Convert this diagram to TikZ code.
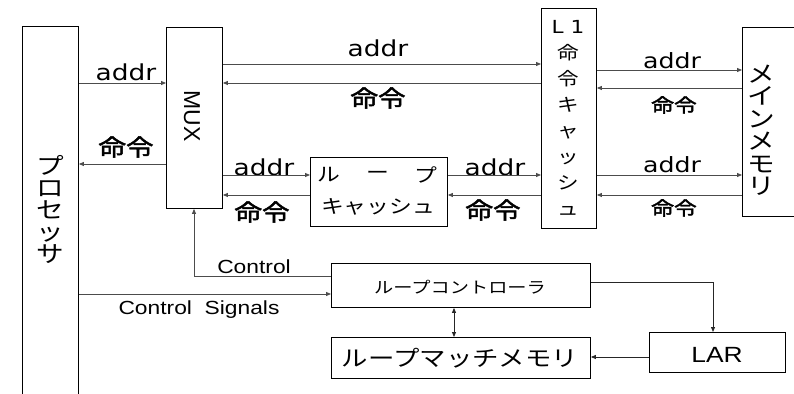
\documentclass[tikz,border=0pt]{standalone}
\usepackage{fontspec}
\setmainfont{Liberation Sans}[FakeStretch=1.2]
\newfontfamily\dv{DejaVu Sans}[FakeStretch=1.2]
\newfontfamily\jp{Noto Sans CJK JP}[FakeStretch=1.2]
\newfontfamily\jpm{Noto Sans CJK JP}[FakeStretch=1.2, FakeBold=2]
\newfontfamily\lsn{Liberation Sans}
\usetikzlibrary{arrows.meta}
\begin{document}
\begin{tikzpicture}[x=1pt,y=-1pt,
 box/.style={draw=black, line width=0.9pt, inner sep=0pt, anchor=north west},
 arr/.style={draw=black!70, line width=0.8pt, -{Triangle[length=5pt,width=4pt]}},
 darr/.style={draw=black!85, line width=0.8pt, {Triangle[length=5pt,width=4pt]}-{Triangle[length=5pt,width=4pt]}},
 lbl/.style={inner sep=0pt},
 addrl/.style={lbl, font=\dv\fontsize{22}{22}\selectfont},
 addrr/.style={lbl, font=\dv\fontsize{21}{21}\selectfont},
 meil/.style={lbl, font=\jpm\fontsize{23}{23}\selectfont},
 meir/.style={lbl, font=\jpm\fontsize{19}{19}\selectfont},
 ]
\useasboundingbox (0,0) rectangle (794,393);
\fill[white] (0,0) rectangle (794,393);

% boxes
\node[box, minimum width=56pt, minimum height=380pt] (proc) at (22,26) {};
\node[box, minimum width=56pt, minimum height=181pt] (mux) at (166,27) {};
\node[box, minimum width=55pt, minimum height=220pt] (l1) at (541,8) {};
\node[box, minimum width=70pt, minimum height=189pt] (mm) at (742,27) {};
\node[box, minimum width=137pt, minimum height=69pt] (lc) at (310,157) {};
\node[box, minimum width=259pt, minimum height=44pt] (ctl) at (331,263) {};
\node[box, minimum width=259pt, minimum height=41pt] (match) at (331,337) {};
\node[box, minimum width=136pt, minimum height=40pt] (lar) at (649,332) {};

% box texts
\node[lbl, align=center, font=\jp\fontsize{23}{22}\selectfont] (proctxt) at (50,209) {プ\\ロ\\セ\\ッ\\サ};
\node[lbl, font=\lsn\fontsize{23}{23}\selectfont, rotate=-90] (muxtxt) at (192,116) {MUX};
\node[lbl, align=center, font=\jp\fontsize{18}{26}\selectfont] (l1txt) at (568,118) {{\dv L 1}\\命\\令\\キ\\ャ\\ッ\\シ\\ュ};
\node[lbl, align=center, font=\jp\fontsize{23}{22.5}\selectfont] (mmtxt) at (761,130) {メ\\イ\\ン\\メ\\モ\\リ};
\node[lbl, font=\jp\fontsize{19}{19}\selectfont] (lc1) at (329,175) {ル};
\node[lbl, font=\jp\fontsize{19}{19}\selectfont] (lc2) at (378,175) {ー};
\node[lbl, font=\jp\fontsize{19}{19}\selectfont] (lc3) at (426,175) {プ};
\node[lbl, font=\jp\fontsize{19}{19}\selectfont] (lc4) at (378,207) {キャッシュ};
\node[lbl, font=\jp\fontsize{16}{16}\selectfont] (ctltxt) at (460,287) {ループコントローラ};
\node[lbl, font=\jp\fontsize{22}{22}\selectfont] (matchtxt) at (460,358) {ループマッチメモリ};
\node[lbl, font=\fontsize{22}{22}\selectfont] (lartxt) at (717,355) {LAR};

% connector labels
\node[addrl] (a1) at (126,72) {addr};
\node[meil] (m1) at (126,147) {命令};
\node[addrl] (a2) at (378,48) {addr};
\node[meil] (m2) at (378,98) {命令};
\node[addrl] (a3) at (264,167) {addr};
\node[meil] (m3) at (262,212) {命令};
\node[addrl] (a4) at (495,167) {addr};
\node[meil] (m4) at (493,210) {命令};
\node[addrr] (a5) at (672,61) {addr};
\node[meir] (m5) at (674,105) {命令};
\node[addrr] (a6) at (672,165) {addr};
\node[meir] (m6) at (674,208) {命令};
\node[lbl, font=\fontsize{19}{19}\selectfont] (ctrl) at (254,267) {Control};
\node[lbl, font=\fontsize{19}{19}\selectfont] (ctrls) at (199,310) {Control\ \ Signals};

% levels
\coordinate (y64) at (0,64);
\coordinate (y70) at (0,70);
\coordinate (y83) at (0,83);
\coordinate (y88) at (0,88);
\coordinate (y164) at (0,164);
\coordinate (y175) at (0,175);
\coordinate (y195) at (0,195);
\coordinate (y276) at (0,276);
\coordinate (y282) at (0,282);
\coordinate (y294) at (0,294);
\coordinate (y357) at (0,357);
\coordinate (x194) at (194,0);
\coordinate (x454) at (454,0);
\coordinate (x713) at (713,0);

% connectors
\draw[arr] (proc.east |- y83) -- (mux.west |- y83);
\draw[arr] (mux.west |- y164) -- (proc.east |- y164);
\draw[arr] (mux.east |- y64) -- (l1.west |- y64);
\draw[arr] (l1.west |- y83) -- (mux.east |- y83);
\draw[arr] (l1.east |- y70) -- (mm.west |- y70);
\draw[arr] (mm.west |- y88) -- (l1.east |- y88);
\draw[arr] (mux.east |- y175) -- (lc.west |- y175);
\draw[arr] (lc.west |- y195) -- (mux.east |- y195);
\draw[arr] (lc.east |- y175) -- (l1.west |- y175);
\draw[arr] (l1.west |- y195) -- (lc.east |- y195);
\draw[arr] (l1.east |- y175) -- (mm.west |- y175);
\draw[arr] (mm.west |- y195) -- (l1.east |- y195);
\draw[arr] (ctl.west |- y276) -- (x194 |- y276) -- (x194 |- mux.south);
\draw[arr] (proc.east |- y294) -- (ctl.west |- y294);
\draw[darr] (x454 |- ctl.south) -- (x454 |- match.north);
\draw[arr, draw=black!85] (ctl.east |- y282) -- (x713 |- y282) -- (x713 |- lar.north);
\draw[arr, draw=black!85] (lar.west |- y357) -- (match.east |- y357);
\end{tikzpicture}
\end{document}
